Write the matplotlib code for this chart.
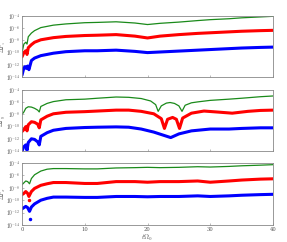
import matplotlib
matplotlib.use("Agg")
import matplotlib.pyplot as plt
import numpy as np

plt.rcParams['mathtext.fontset'] = 'cm'
plt.rcParams['font.family'] = 'serif'
plt.rcParams['font.serif'] = ['DejaVu Serif']

# ---------------- data (log10 values) ----------------
# top panel
t1_g = [0, 0.3, 0.6, 0.8, 1.0, 1.5, 2, 3, 5, 7, 10, 12, 15, 18, 20, 22, 25, 28, 30, 33, 35, 38, 40]
v1_g = [-10.0, -8.6, -8.3, -8.6, -7.4, -6.8, -6.4, -5.9, -5.5, -5.3, -5.1, -5.05, -4.95, -5.15, -5.4, -5.2, -5.0, -4.75, -4.6, -4.45, -4.3, -4.15, -4.05]
t1_r = [0, 0.3, 0.6, 0.8, 1.0, 1.5, 2, 3, 5, 7, 10, 12, 15, 18, 20, 22, 25, 28, 30, 33, 35, 38, 40]
v1_r = [-10.7, -10.0, -9.7, -10.3, -9.2, -8.7, -8.3, -7.9, -7.55, -7.35, -7.2, -7.15, -7.05, -7.3, -7.6, -7.3, -7.05, -6.85, -6.75, -6.6, -6.5, -6.4, -6.35]
t1_b = [0, 0.3, 0.5, 0.7, 0.9, 1.1, 1.5, 2, 3, 5, 7, 10, 12, 15, 18, 20, 22, 25, 28, 30, 33, 35, 38, 40]
v1_b = [-13.7, -12.5, -12.3, -12.6, -12.2, -12.8, -11.3, -10.9, -10.5, -10.1, -9.85, -9.7, -9.7, -9.6, -9.8, -10.0, -9.9, -9.75, -9.6, -9.5, -9.35, -9.25, -9.15, -9.1]

# middle panel
t2_g = [0, 0.3, 0.6, 1.0, 1.5, 2.0, 2.5, 2.75, 3.0, 4, 5, 7, 10, 12, 15, 17, 19, 20.5, 21.3, 21.7, 22.2, 23, 23.6, 24.3, 25.0, 25.5, 26.0, 27, 28, 30, 33, 35, 38, 40]
v2_g = [-8.0, -7.6, -7.0, -6.75, -6.8, -7.0, -7.3, -7.6, -6.7, -6.2, -5.9, -5.6, -5.5, -5.35, -5.15, -5.2, -5.4, -5.8, -6.4, -7.5, -6.6, -6.15, -6.05, -6.2, -6.6, -7.5, -6.5, -6.1, -5.95, -5.7, -5.5, -5.35, -5.1, -4.98]
t2_r = [0, 0.3, 0.6, 0.8, 1.0, 1.5, 2.0, 2.5, 2.75, 3.0, 4, 5, 7, 10, 12, 15, 17, 19, 21, 22.2, 22.7, 23.2, 24, 24.6, 25.1, 25.6, 27, 29, 31, 33.5, 36, 38, 40]
v2_r = [-10.8, -10.5, -10.0, -10.7, -9.7, -9.2, -9.3, -9.6, -10.2, -8.9, -8.3, -7.9, -7.65, -7.55, -7.45, -7.3, -7.3, -7.5, -7.9, -8.7, -10.3, -8.8, -8.5, -8.8, -10.3, -8.6, -7.8, -7.45, -7.6, -7.8, -7.5, -7.35, -7.3]
t2_b = [0, 0.3, 0.6, 0.8, 1.0, 1.5, 2.0, 2.5, 2.75, 3.0, 4, 5, 7, 10, 12, 15, 17, 19, 21, 22.5, 23.7, 25, 27, 30, 33, 35, 38, 40]
v2_b = [-14.0, -13.3, -13.0, -13.9, -12.6, -12.0, -12.1, -12.5, -13.0, -11.6, -11.0, -10.6, -10.3, -10.15, -10.1, -10.05, -10.1, -10.4, -10.9, -11.4, -11.8, -11.2, -10.7, -10.4, -10.4, -10.3, -10.2, -10.2]

# bottom panel
t3_g = [0, 0.3, 0.6, 0.9, 1.2, 1.5, 2, 3, 4, 5, 7, 10, 12, 15, 18, 20, 22, 25, 28, 30, 33, 35, 38, 40]
v3_g = [-7.5, -7.2, -6.9, -7.0, -7.35, -6.5, -5.9, -5.3, -5.0, -4.9, -4.9, -4.95, -4.95, -4.8, -4.75, -4.7, -4.75, -4.7, -4.6, -4.65, -4.55, -4.45, -4.35, -4.27]
t3_r = [0, 0.3, 0.6, 0.9, 1.1, 1.5, 2, 3, 4, 5, 7, 10, 12, 15, 18, 20, 22, 25, 28, 30, 33, 35, 38, 40]
v3_r = [-9.1, -8.9, -8.6, -8.9, -9.4, -8.6, -8.1, -7.6, -7.35, -7.15, -7.15, -7.3, -7.3, -7.0, -7.0, -7.1, -7.0, -7.0, -6.9, -7.1, -6.9, -6.75, -6.6, -6.55]
t3_b = [0, 0.3, 0.6, 0.9, 1.2, 1.5, 2, 3, 4, 5, 7, 10, 12, 15, 18, 20, 22, 25, 28, 30, 33, 35, 38, 40]
v3_b = [-11.4, -11.2, -11.0, -11.2, -11.8, -11.1, -10.6, -10.0, -9.7, -9.5, -9.5, -9.55, -9.55, -9.4, -9.4, -9.45, -9.4, -9.4, -9.3, -9.4, -9.3, -9.2, -9.1, -9.05]

# isolated dots at dips (bottom panel): red, blue
dot3_red = (1.1, -10.0)
dot3_blue = (1.2, -13.1)

ylabels = [r'$\Delta P_z$', r'$\Delta P_y$', r'$\Delta P_x$']
xlabel = r'$t\Omega_0$'
yticks = [1e-14, 1e-12, 1e-10, 1e-8, 1e-6, 1e-4]
xticks = [0, 10, 20, 30, 40]

panels = [
    [(t1_g, v1_g), (t1_r, v1_r), (t1_b, v1_b)],
    [(t2_g, v2_g), (t2_r, v2_r), (t2_b, v2_b)],
    [(t3_g, v3_g), (t3_r, v3_r), (t3_b, v3_b)],
]
colors = ['#1a8a1a', '#ff0000', '#0000ff']
widths = [0.9, 2.2, 2.2]

fig = plt.figure(figsize=(2.87, 2.42), dpi=100)
W, H = 287, 242
boxes = [(16, 77), (90, 151), (163, 225)]
grey = '#888888'
for i, (top, bot) in enumerate(boxes):
    ax = fig.add_axes([22 / W, 1 - bot / H, (273 - 22) / W, (bot - top) / H])
    for (t, v), c, lw in zip(panels[i], colors, widths):
        ax.plot(t, 10.0 ** np.array(v), color=c, lw=lw, solid_capstyle='round')
    if i == 2:
        ax.plot([dot3_red[0]], [10.0 ** dot3_red[1]], 'o', ms=1.5, color=colors[1])
        ax.plot([dot3_blue[0]], [10.0 ** dot3_blue[1]], 'o', ms=1.5, color=colors[2])
    ax.set_yscale('log')
    ax.set_ylim(1e-14, 1e-4)
    ax.set_xlim(0, 40)
    ax.set_yticks(yticks)
    ax.set_yticklabels([r'$10^{%d}$' % int(np.log10(y)) for y in yticks])
    ax.yaxis.set_minor_locator(matplotlib.ticker.NullLocator())
    ax.set_xticks(xticks)
    if i == 2:
        ax.set_xticklabels([str(x) for x in xticks])
        ax.set_xlabel(xlabel, fontsize=5, color='#555555', labelpad=0.5)
    else:
        ax.set_xticklabels([])
    ax.set_ylabel(ylabels[i], fontsize=4.3, color='#555555')
    ax.yaxis.set_label_coords(-0.054, 0.5)
    ax.tick_params(direction='in', length=1.5, width=0.4, labelsize=3.8, colors=grey, labelcolor='#555555', pad=1.2)
    for s in ax.spines.values():
        s.set_color(grey)
        s.set_linewidth(0.6)

fig.savefig('out.png', dpi=100)
